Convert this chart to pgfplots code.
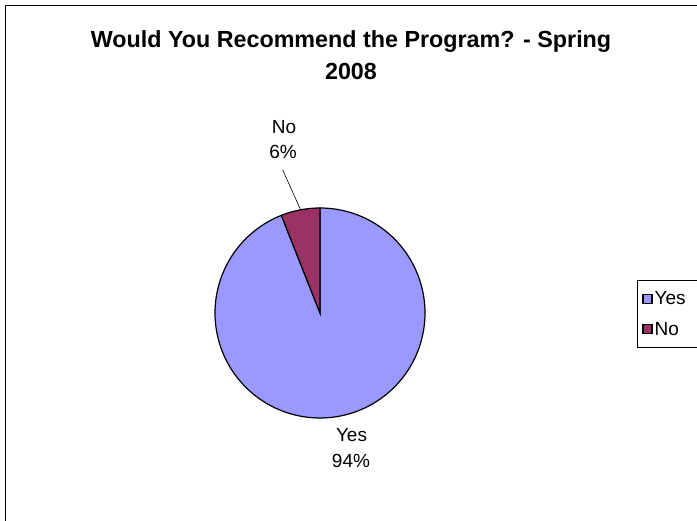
\documentclass[border=0pt]{standalone}
\usepackage{pgfplots}
\pgfplotsset{compat=1.18}
\usepackage{fontspec}
\setmainfont{Liberation Sans}
\definecolor{yescol}{HTML}{9999FF}
\definecolor{nocol}{HTML}{993366}
% data (percent)
\def\yesval{94}
\def\noval{6}
\pgfmathsetmacro{\yesstart}{90-\yesval*3.6}
\pgfmathsetmacro{\nostart}{\yesstart-\noval*3.6}
\begin{document}
\begin{tikzpicture}
\begin{axis}[
  scale only axis, width=697bp, height=521bp,
  xmin=0, xmax=697, ymin=0, ymax=521,
  hide axis, clip=false,
  legend image code/.code={\draw[#1] (0bp,-4.5bp) rectangle (9bp,4.5bp);},
  legend style={at={(axis cs:637,241)}, anchor=north west, draw=black, line width=0.8bp,
    fill=white, font=\fontsize{19bp}{22bp}\selectfont, inner xsep=5bp, inner ysep=9bp,
    row sep=12bp, /tikz/every even column/.append style={column sep=3bp}},
  legend cell align=left,
]
\addplot[fill=yescol, draw=black, line width=1.2bp, domain=\yesstart:90, samples=300]
  ({320+105*cos(x)},{208+105*sin(x)}) -- (axis cs:320,208) -- cycle;
\addlegendentry{\makebox[45bp][l]{Yes}}
\addplot[fill=nocol, draw=black, line width=1.2bp, domain=\nostart:\yesstart, samples=40]
  ({320+105*cos(x)},{208+105*sin(x)}) -- (axis cs:320,208) -- cycle;
\addlegendentry{\makebox[45bp][l]{No}}
% leader line
\addplot[black, line width=0.6bp, forget plot] coordinates {(282.7,351) (300.6,311.2)};
% frame
\draw[black, line width=1bp] (axis cs:5.5,-20) -- (axis cs:5.5,515.5) -- (axis cs:720,515.5);
% labels
\node[anchor=base, font=\fontsize{19bp}{22bp}\selectfont] at (axis cs:284,387.5) {No};
\node[anchor=base, font=\fontsize{19bp}{22bp}\selectfont] at (axis cs:283,362) {6\%};
\node[anchor=base, font=\fontsize{19bp}{22bp}\selectfont] at (axis cs:351.5,79) {Yes};
\node[anchor=base, font=\fontsize{19bp}{22bp}\selectfont] at (axis cs:351,53.3) {94\%};
% title
\node[anchor=base, font=\fontsize{23.3bp}{26bp}\selectfont\bfseries] at (axis cs:351,473) {Would You Recommend the Program? - Spring};
\node[anchor=base, font=\fontsize{23.3bp}{26bp}\selectfont\bfseries] at (axis cs:351,441) {2008};
\end{axis}
\pgfresetboundingbox
\path[use as bounding box] (0,0) rectangle (697bp,521bp);
\end{tikzpicture}
\end{document}
